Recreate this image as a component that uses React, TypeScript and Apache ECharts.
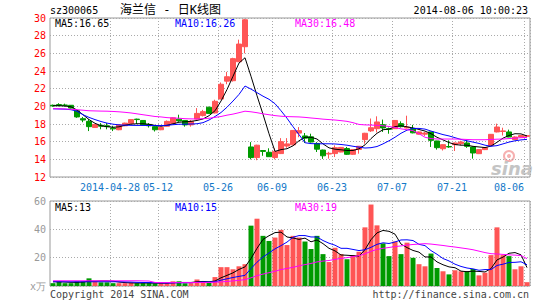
import React, { useEffect, useRef } from 'react';
import * as echarts from 'echarts';

const dates = [
  '04-14','04-15','04-16','04-17','04-18','04-21','04-22','04-23','04-24','04-25',
  '04-28','04-29','04-30','05-05','05-06','05-07','05-08','05-09','05-12','05-13',
  '05-14','05-15','05-16','05-19','05-20','05-21','05-22','05-23','05-26','05-27',
  '05-28','05-29','05-30','06-03','06-04','06-05','06-06','06-09','06-10','06-11',
  '06-12','06-13','06-16','06-17','06-18','06-19','06-20','06-23','06-24','06-25',
  '06-26','06-27','06-30','07-01','07-02','07-03','07-04','07-07','07-08','07-09',
  '07-10','07-11','07-14','07-15','07-16','07-17','07-18','07-21','07-22','07-23',
  '07-24','07-25','07-28','07-29','07-30','07-31','08-01','08-04','08-05','08-06',
];

const tickDates = ['04-28', '05-12', '05-26', '06-09', '06-23', '07-07', '07-21', '08-06'];
const tickTexts = ['2014-04-28', '05-12', '05-26', '06-09', '06-23', '07-07', '07-21', '08-06'];

const opens = [
  20.12,20.2,20.15,20.12,19.5,18.6,18.3,17.6,17.85,17.8,
  17.55,17.35,17.8,18.04,18.55,18.4,17.95,17.7,17.35,17.75,
  18.05,18.55,18.4,17.9,18.56,18.95,19.9,19.25,20.83,22.85,
  22.9,25.05,26.75,15.4,14.2,15.0,14.8,14.2,14.65,15.5,
  15.64,16.97,16.65,16.55,15.8,15.05,14.6,14.65,14.83,15.22,
  14.57,15.12,16.23,17.22,17.47,17.92,17.47,17.47,18.04,17.55,
  17.5,16.85,16.85,17.1,16.08,15.2,15.45,15.66,15.77,15.85,
  15.4,14.64,15.1,15.58,17.1,17.15,17.1,16.23,16.53,16.6,
];
const closes = [
  20.05,20.08,20.1,19.8,18.8,18.45,17.7,17.95,17.75,17.7,
  17.45,17.9,18.1,18.5,18.5,17.9,17.8,17.35,17.6,18.3,
  18.7,18.35,17.9,18.3,19.2,19.4,19.2,20.57,22.5,23.35,
  25.4,27.05,29.8,14.2,15.6,14.9,14.3,14.9,16.0,15.75,
  17.27,17.25,16.4,15.96,15.15,14.4,14.68,15.32,15.35,14.57,
  15.1,15.48,16.95,17.58,18.23,17.55,17.4,18.4,17.7,17.65,
  17.0,17.1,16.98,16.15,15.32,15.66,15.4,15.85,15.96,15.47,
  14.72,15.1,15.32,16.83,17.66,17.22,16.53,16.53,16.7,16.68,
];
const lows = [
  19.95,20.0,19.98,19.75,18.7,18.2,17.2,17.55,17.4,17.4,
  17.2,17.3,17.75,18.0,18.0,17.85,17.6,17.15,17.3,17.7,
  18.0,18.25,17.7,17.7,18.5,18.85,19.15,19.2,20.8,22.5,
  22.8,25.0,26.0,14.0,13.9,14.4,14.3,14.0,14.6,15.3,
  15.6,16.5,15.85,15.9,14.83,14.05,14.08,14.26,14.8,14.5,
  14.5,14.64,15.77,17.1,17.05,17.1,16.9,17.45,17.6,17.5,
  16.95,16.8,16.65,15.4,15.1,15.0,15.3,14.94,15.6,15.3,
  14.08,14.6,15.05,15.55,17.05,16.7,16.5,16.2,16.5,16.55,
];
const highs = [
  20.2,20.35,20.3,20.15,19.6,18.8,18.55,18.0,18.1,18.1,
  17.8,17.95,18.15,18.55,18.6,18.45,18.1,17.75,17.65,18.4,
  18.75,19.05,18.45,18.45,19.8,19.6,19.95,20.75,22.7,23.9,
  25.5,27.55,29.9,15.95,15.65,15.05,15.25,15.25,16.4,16.4,
  17.3,17.65,16.98,16.9,15.95,15.1,14.85,15.58,15.4,15.4,
  15.15,15.5,17.0,18.62,18.87,18.5,17.6,18.45,18.3,18.94,
  17.9,17.15,17.1,17.12,16.1,15.7,16.15,15.9,16.1,16.15,
  15.45,15.15,15.35,16.85,18.04,17.58,17.36,16.6,16.75,16.75,
];

const ma5 = [
  20.07,20.07,20.03,19.95,19.58,19.05,18.5,18.08,17.8,17.7,
  17.63,17.68,17.86,17.98,18.03,18.03,17.97,17.84,17.74,17.85,
  18.02,18.2,18.25,18.3,18.4,18.57,18.94,19.5,20.6,21.9,
  23.4,24.9,25.5,23.4,21.2,19.1,16.9,14.9,15.1,15.2,
  15.53,16.1,16.5,16.5,16.3,15.75,15.3,15.15,15.08,15.0,
  15.0,15.19,15.64,16.35,16.95,17.35,17.42,17.7,17.8,17.68,
  17.55,17.38,17.2,16.9,16.5,16.2,15.9,15.68,15.6,15.6,
  15.47,15.4,15.33,15.5,15.93,16.4,16.7,16.9,16.88,16.65,
];
const ma10 = [
  19.72,19.7,19.68,19.62,19.45,19.05,18.75,18.5,18.28,18.1,
  17.98,17.9,17.87,17.85,17.84,17.84,17.83,17.82,17.82,17.85,
  17.92,17.97,17.98,18.0,18.03,18.15,18.45,18.85,19.3,19.9,
  20.6,21.35,22.3,21.95,21.55,21.15,20.8,20.3,19.5,18.65,
  17.7,16.8,15.88,15.78,15.76,15.76,15.76,15.74,15.68,15.6,
  15.48,15.38,15.28,15.32,15.45,15.75,16.1,16.5,16.95,17.3,
  17.5,17.5,17.42,17.2,17.0,16.8,16.65,16.45,16.25,16.1,
  15.95,15.8,15.6,15.48,15.55,15.75,15.95,16.1,16.2,16.26,
];
const ma30 = [
  19.74,19.72,19.7,19.66,19.62,19.56,19.5,19.48,19.46,19.45,
  19.42,19.38,19.32,19.25,19.15,19.05,18.95,18.85,18.8,18.72,
  18.68,18.65,18.6,18.58,18.57,18.6,18.65,18.75,18.85,19.0,
  19.12,19.28,19.45,19.38,19.28,19.15,19.05,18.95,18.88,18.84,
  18.82,18.8,18.75,18.68,18.62,18.55,18.5,18.45,18.38,18.3,
  18.15,17.95,17.9,17.88,17.85,17.8,17.72,17.6,17.45,17.35,
  17.25,16.9,16.5,16.35,16.3,16.3,16.3,16.3,16.28,16.25,
  16.22,16.22,16.22,16.25,16.28,16.3,16.35,16.4,16.45,16.48,
];

const volumes = [
  2.0,3.2,2.0,2.0,3.2,3.2,5.4,3.2,2.6,2.6,
  2.0,2.0,2.0,2.3,2.0,2.0,2.0,1.8,2.0,2.0,
  3.3,3.3,1.9,2.0,4.6,2.3,2.3,6.3,13.3,13.3,
  11.8,13.9,15.4,42.6,47.5,35.4,31.8,34.2,39.6,28.9,
  35.4,34.2,31.4,26.1,35.4,22.5,16.9,27.0,22.5,18.9,
  21.8,24.2,41.4,57.5,42.8,30.1,21.1,31.4,22.5,30.6,
  19.9,15.4,13.9,22.9,12.7,10.4,8.2,11.1,10.4,10.4,
  12.0,7.5,9.4,21.8,41.4,21.8,21.1,11.8,13.9,2.7,
];
const vma5 = [
  3.0,3.0,2.8,2.6,2.6,2.8,3.4,3.4,3.6,3.6,
  3.4,2.8,2.4,2.2,2.1,2.1,2.1,2.0,2.0,2.0,
  2.3,2.5,2.5,2.5,3.0,3.2,3.0,3.5,5.8,7.5,
  9.3,11.7,13.5,19.4,26.6,32.9,35.5,37.7,38.0,34.6,
  33.9,32.9,33.8,31.2,32.5,29.9,26.6,24.8,21.9,21.7,
  21.4,21.0,25.7,32.7,37.5,39.2,38.6,36.6,29.6,27.1,
  25.1,23.9,20.5,20.5,17.0,15.0,13.5,12.9,10.5,10.1,
  10.5,10.3,9.9,12.3,18.4,20.4,23.1,23.6,22.0,13.0,
];
const vma10 = [
  3.0,3.0,3.0,3.0,3.0,3.0,3.0,3.0,3.0,3.0,
  3.0,3.0,2.9,2.8,2.6,2.5,2.4,2.3,2.2,2.1,
  2.2,2.3,2.3,2.3,2.6,2.8,2.8,3.0,4.1,5.1,
  6.0,6.8,7.5,12.3,16.8,20.5,23.3,26.2,28.5,31.0,
  34.4,35.6,35.6,34.6,34.6,32.1,30.2,28.8,26.6,26.6,
  25.8,25.0,25.6,27.3,29.4,30.5,30.0,31.1,32.5,32.6,
  32.1,29.4,28.5,25.0,22.4,19.4,17.7,15.4,13.8,12.7,
  12.1,11.1,11.6,11.6,14.5,15.4,16.6,16.7,17.1,15.0,
];
const vma30 = [
  3.7,3.7,3.7,3.7,3.7,3.7,3.7,3.7,3.7,3.7,
  3.7,3.7,3.7,3.7,3.7,3.6,3.5,2.5,2.4,2.4,
  2.4,2.4,2.4,2.4,2.5,2.5,2.5,2.7,2.9,3.2,
  3.6,4.0,4.5,5.8,7.3,8.4,9.4,10.4,11.6,12.4,
  13.2,14.2,15.1,15.9,17.0,17.6,18.0,18.8,19.5,20.0,
  20.7,21.4,22.7,24.5,25.8,26.6,27.2,27.8,28.3,28.9,
  29.3,29.6,29.9,29.6,29.1,28.6,28.0,27.5,26.9,26.3,
  25.6,24.6,23.6,22.8,22.6,22.3,22.0,21.8,21.5,19.3,
];

const RED = '#ff5555';
const GREEN = '#009a00';
const C_MA5 = '#000000';
const C_MA10 = '#0000ff';
const C_MA30 = '#ff00ff';
const MONO = '"DejaVu Sans Mono", "Liberation Mono", monospace';
const GRIDLINE = { color: '#aaaaaa', type: [1, 2] as number[], width: 1 };

export default function App() {
  const ref = useRef<HTMLDivElement>(null);

  useEffect(() => {
    if (!ref.current) return;
    const chart = echarts.init(ref.current, null, { renderer: 'svg' });

    const tickIdx = new Set(tickDates.map((d) => dates.indexOf(d)));
    const lastTick = dates.indexOf(tickDates[tickDates.length - 1]);
    const candleData = dates.map((_, i) => [opens[i], closes[i], lows[i], highs[i]]);
    const volData = volumes.map((v, i) => ({
      value: v,
      itemStyle: { color: closes[i] >= opens[i] ? RED : GREEN },
    }));
    const last = (a: number[]) => a[a.length - 1];

    const lineSeries = (name: string, data: number[], color: string, xi: number) => ({
      name,
      type: 'line',
      xAxisIndex: xi,
      yAxisIndex: xi,
      data,
      symbol: 'none',
      smooth: false,
      lineStyle: { color, width: 1 },
      z: 3,
    });

    const labelStyle = { color: '#1478c8', fontFamily: MONO, fontSize: 10 };

    const legendText = (text: string, x: number, y: number, color: string) => ({
      type: 'text',
      x,
      y,
      z: 10,
      style: { text, fill: color, font: `10px ${MONO}`, verticalAlign: 'middle' },
    });

    chart.setOption({
      animation: false,
      backgroundColor: '#ffffff',
      grid: [
        { left: 50, top: 18, width: 480, height: 159, show: true, borderColor: '#999', borderWidth: 1, backgroundColor: 'transparent' },
        { left: 50, top: 201, width: 480, height: 85, show: true, borderColor: '#999', borderWidth: 1, backgroundColor: 'transparent' },
      ],
      xAxis: [
        {
          type: 'category',
          gridIndex: 0,
          data: dates,
          boundaryGap: true,
          axisLine: { show: false },
          axisTick: { show: false },
          axisLabel: {
            interval: (i: number) => tickIdx.has(i),
            margin: 5,
            ...labelStyle,
            formatter: (v: string, i: number) => {
              const t = tickTexts[tickDates.indexOf(v)];
              return i === lastTick ? `{b|${t}}` : `{a|${t}}`;
            },
            rich: {
              a: { ...labelStyle, padding: [0, 6, 0, 0] },
              b: { ...labelStyle, padding: [0, 36, 0, 0] },
            },
          },
          splitLine: { show: true, interval: (i: number) => tickIdx.has(i), lineStyle: GRIDLINE },
        },
        {
          type: 'category',
          gridIndex: 1,
          data: dates,
          boundaryGap: true,
          axisLine: { show: false },
          axisTick: { show: false },
          axisLabel: { show: false },
          splitLine: { show: true, interval: (i: number) => tickIdx.has(i), lineStyle: GRIDLINE },
        },
      ],
      yAxis: [
        {
          type: 'value',
          gridIndex: 0,
          min: 12,
          max: 30,
          interval: 2,
          axisLine: { show: false },
          axisTick: { show: false },
          axisLabel: { color: '#ff0000', fontFamily: MONO, fontSize: 10, margin: 4 },
          splitLine: { show: true, lineStyle: GRIDLINE },
        },
        {
          type: 'value',
          gridIndex: 1,
          min: 0,
          max: 60,
          interval: 20,
          axisLine: { show: false },
          axisTick: { show: false },
          axisLabel: {
            color: '#999999',
            fontFamily: MONO,
            fontSize: 10,
            margin: 4,
            formatter: (v: number) => (v === 0 ? 'x万' : String(v)),
          },
          splitLine: { show: true, lineStyle: GRIDLINE },
        },
      ],
      series: [
        {
          name: 'K',
          type: 'candlestick',
          xAxisIndex: 0,
          yAxisIndex: 0,
          data: candleData,
          barWidth: 5,
          itemStyle: { color: RED, color0: GREEN, borderColor: RED, borderColor0: GREEN, borderWidth: 1 },
          z: 2,
        },
        lineSeries('MA5', ma5, C_MA5, 0),
        lineSeries('MA10', ma10, C_MA10, 0),
        lineSeries('MA30', ma30, C_MA30, 0),
        {
          name: 'VOL',
          type: 'bar',
          xAxisIndex: 1,
          yAxisIndex: 1,
          data: volData,
          barWidth: 5,
          z: 2,
        },
        lineSeries('VMA5', vma5, C_MA5, 1),
        lineSeries('VMA10', vma10, C_MA10, 1),
        lineSeries('VMA30', vma30, C_MA30, 1),
      ],
      graphic: [
        { type: 'circle', z: 0, shape: { cx: 509, cy: 156, r: 5 }, style: { fill: 'none', stroke: '#f6b0b0', lineWidth: 2 } },
        { type: 'circle', z: 0, shape: { cx: 509, cy: 156, r: 2 }, style: { fill: '#f6b0b0' } },
        { type: 'text', z: 0, x: 512, y: 168, style: { text: 'sina', fill: '#c4c4c4', font: 'italic bold 18px "DejaVu Sans"', align: 'center', verticalAlign: 'middle' } },
        { type: 'text', x: 50, y: 10, style: { text: 'sz300065', fill: '#000', font: `10px ${MONO}`, verticalAlign: 'middle' } },
        { type: 'text', x: 120, y: 10, style: { text: '海兰信 - 日K线图', fill: '#000', font: `12px "DejaVu Sans Mono", "Noto Sans CJK SC"`, verticalAlign: 'middle' } },
        { type: 'text', x: 528, y: 10, style: { text: '2014-08-06 10:00:23', fill: '#000', font: `10px ${MONO}`, align: 'right', verticalAlign: 'middle' } },
        legendText(`MA5:${last(ma5).toFixed(2)}`, 55, 23, C_MA5),
        legendText(`MA10:${last(ma10).toFixed(2)}`, 175, 23, C_MA10),
        legendText(`MA30:${last(ma30).toFixed(2)}`, 295, 23, C_MA30),
        legendText(`MA5:${Math.round(last(vma5))}`, 55, 207, C_MA5),
        legendText(`MA10:${Math.round(last(vma10))}`, 175, 207, C_MA10),
        legendText(`MA30:${Math.round(last(vma30))}`, 295, 207, C_MA30),
        { type: 'text', x: 50, y: 294, style: { text: 'Copyright 2014 SINA.COM', fill: '#444', font: `10px ${MONO}`, verticalAlign: 'middle' } },
        { type: 'text', x: 529, y: 294, style: { text: 'http://finance.sina.com.cn', fill: '#444', font: `10px ${MONO}`, align: 'right', verticalAlign: 'middle' } },
      ],
    });

    return () => chart.dispose();
  }, []);

  return (
    <div
      ref={ref}
      style={{ position: 'fixed', left: 0, top: 0, width: 545, height: 300, background: '#fff' }}
    />
  );
}
